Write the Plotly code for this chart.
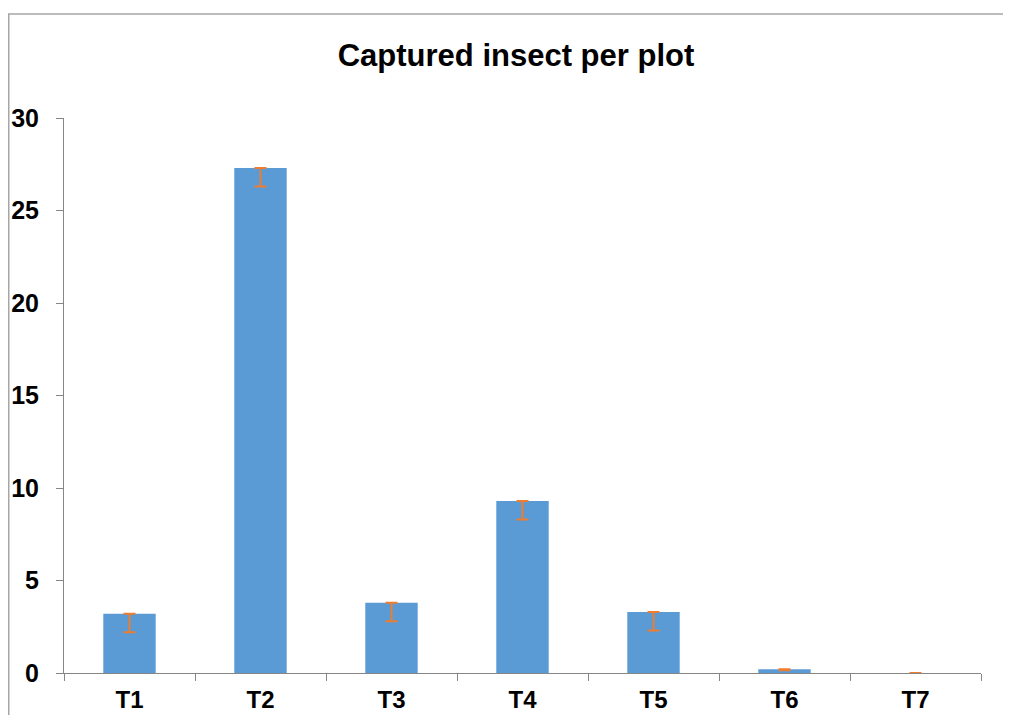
import plotly.graph_objects as go

categories = ["T1", "T2", "T3", "T4", "T5", "T6", "T7"]
values = [3.2, 27.3, 3.8, 9.3, 3.3, 0.2, 0.0]
err_minus = [1.0, 1.0, 1.0, 1.0, 1.0, 0.05, 0.0]
err_plus = [0, 0, 0, 0, 0, 0, 0]
y_ticks = [0, 5, 10, 15, 20, 25, 30]

# page body has an 8px margin, so figure coords = reference coords - 8
W, H = 1003, 707
L, R, T, B = 56, 30, 110, 42
pw, ph = W - L - R, H - T - B

fig = go.Figure()
fig.add_trace(go.Bar(
    x=categories, y=values, width=0.4,
    marker=dict(color="#5B9BD5", line=dict(width=0)),
    error_y=dict(type="data", symmetric=False, array=err_plus, arrayminus=err_minus,
                 color="#ED7D31", thickness=2, width=6),
))

font_main = "Liberation Sans, Arial, sans-serif"
fig.update_layout(
    width=W, height=H,
    margin=dict(l=L, r=R, t=T, b=B, autoexpand=False),
    paper_bgcolor="white", plot_bgcolor="white",
    showlegend=False,
    title=dict(text="<b>Captured insect per plot</b>", x=508 / W, xanchor="center",
               y=1 - 47 / H, yanchor="middle",
               font=dict(family=font_main, size=31, color="black")),
    xaxis=dict(showline=True, linecolor="#868686", linewidth=1, ticks="outside",
               tickson="boundaries", ticklen=7, tickcolor="#868686", showgrid=False,
               ticklabelstandoff=5,
               tickfont=dict(family=font_main, size=24, color="black", weight="bold")),
    yaxis=dict(range=[0, 30], tickvals=y_ticks, showline=True, linecolor="#868686",
               linewidth=1, ticks="outside", ticklen=7, tickcolor="#868686",
               showgrid=False, zeroline=False, ticklabelstandoff=12,
               tickfont=dict(family=font_main, size=25, color="black", weight="bold")),
    bargap=0.6,
)

# outer chart border
fig.add_shape(type="rect", xref="paper", yref="paper",
              x0=(0.75 - L) / pw, x1=(W + 5 - L) / pw,
              y0=(T + ph - (H + 5)) / ph, y1=(T + ph - 6) / ph,
              line=dict(color="#A6A6A6", width=1.5), fillcolor="rgba(0,0,0,0)", layer="below")

fig.write_html("out.html")
